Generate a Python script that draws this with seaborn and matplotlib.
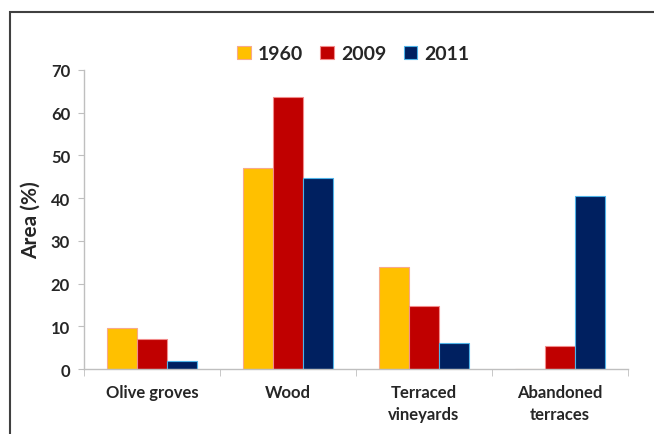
import pandas as pd
import seaborn as sns
import matplotlib.pyplot as plt
from matplotlib.patches import Rectangle

categories = ["Olive groves", "Wood", "Terraced\nvineyards", "Abandoned\nterraces"]
years = ["1960", "2009", "2011"]
area_1960 = [9.6, 47.1, 23.9, 0.0]
area_2009 = [7.0, 63.7, 14.7, 5.3]
area_2011 = [1.9, 44.7, 6.0, 40.5]

colors = ["#FFC000", "#C00000", "#002060"]
edges = ["#F7A98C", "#F28B8B", "#4FB3E8"]

df = pd.DataFrame({
    "Category": categories * 3,
    "Year": [y for y in years for _ in categories],
    "Area": area_1960 + area_2009 + area_2011,
})

sns.set_style("white")
plt.rcParams["font.family"] = ["Lato", "DejaVu Sans"]
plt.rcParams["font.weight"] = "bold"

fig = plt.figure(figsize=(6.54, 4.35), dpi=100)
ax = fig.add_axes([0.1284, 0.1494, 0.8316, 0.6874])
sns.barplot(data=df, x="Category", y="Area", hue="Year", palette=colors,
            width=0.66, saturation=1, ax=ax, legend=False)

for i, cont in enumerate(ax.containers):
    for bar in cont:
        bar.set_edgecolor(edges[i])
        bar.set_linewidth(0.8)

ax.set_ylim(0, 70)
ax.set_xlim(-0.5, 3.5)
ax.set_yticks(range(0, 71, 10))
ax.set_xlabel("")
ax.set_ylabel("Area (%)", fontsize=15, fontweight="bold", labelpad=7)

for s in ["top", "right"]:
    ax.spines[s].set_visible(False)
for s in ["left", "bottom"]:
    ax.spines[s].set_color("#BFBFBF")
    ax.spines[s].set_linewidth(1)

ax.tick_params(axis="y", left=True, length=4, color="#BFBFBF", labelsize=12, pad=6)
ax.tick_params(axis="x", which="major", length=0, labelsize=12, pad=11)
ax.set_xticks([-0.5, 0.5, 1.5, 2.5, 3.5], minor=True)
ax.tick_params(axis="x", which="minor", bottom=True, length=5, color="#BFBFBF")
for lbl in ax.get_xticklabels() + ax.get_yticklabels():
    lbl.set_fontweight("bold")
for lbl in ax.get_xticklabels():
    lbl.set_linespacing(1.45)

handles = [Rectangle((0, 0), 1, 1, facecolor=c, edgecolor=e, lw=0.8) for c, e in zip(colors, edges)]
fig.legend(handles, years, loc="center", bbox_to_anchor=(0.54, 0.874), ncol=3,
           frameon=False, handlelength=0.7, handleheight=0.7, handletextpad=0.35,
           columnspacing=0.9, prop={"size": 14, "weight": "bold"})

fig.patches.append(Rectangle((10 / 654, -0.1), 2, 1 - 13 / 435 + 0.1,
                             transform=fig.transFigure, fill=False,
                             edgecolor="#404040", lw=1.5))

fig.savefig("out.png", dpi=100)
